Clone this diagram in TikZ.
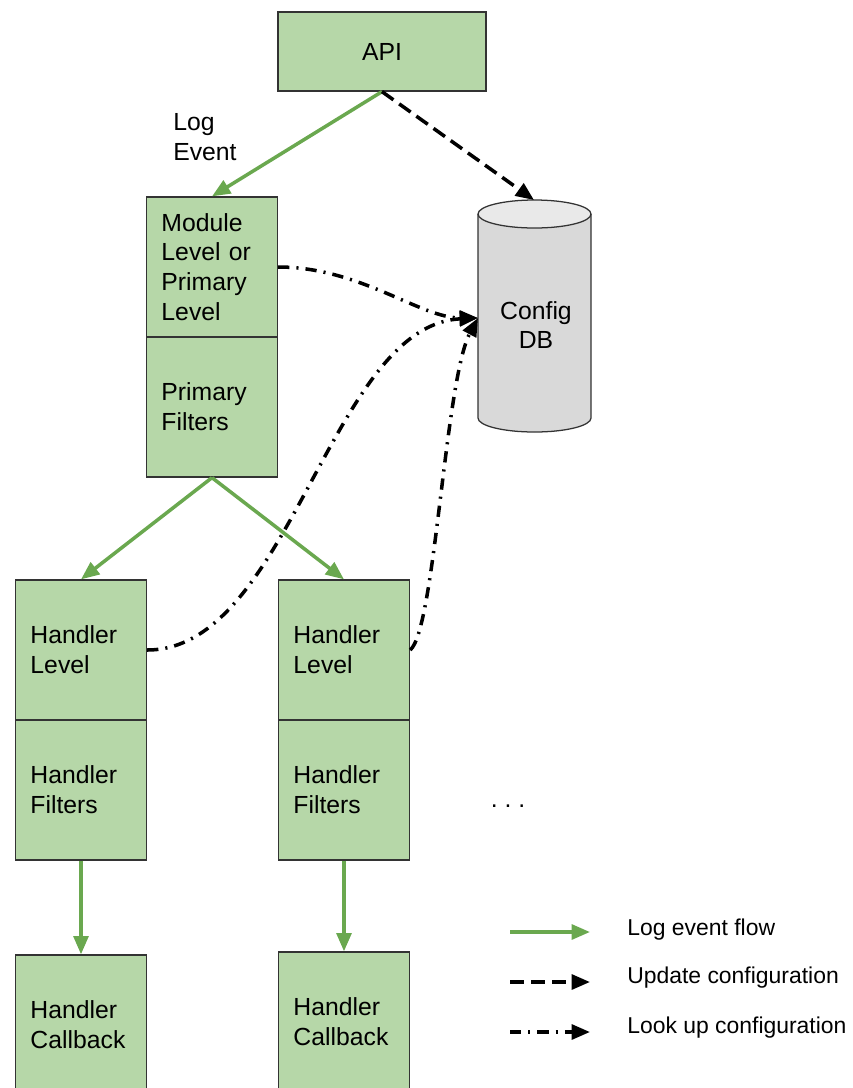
\documentclass[tikz,border=0pt]{standalone}
\usepackage{fontspec}
\setmainfont{Liberation Sans}
\usetikzlibrary{arrows.meta}

\definecolor{boxgreen}{HTML}{B6D7A8}
\definecolor{flowgreen}{HTML}{6AA84F}
\definecolor{edgegrey}{HTML}{333333}
\definecolor{dbgrey}{HTML}{D9D9D9}
\definecolor{dbtopgrey}{HTML}{E9E9E9}

\tikzset{
  greenbox/.style={draw=edgegrey, line width=0.9pt, fill=boxgreen, rectangle,
    minimum width=3.275cm, minimum height=3.5cm, text width=2.525cm,
    inner xsep=0.375cm, align=left, font=\fontsize{17.6}{21.2}\selectfont},
  flowarr/.style={->, flowgreen, line width=2.5pt},
  updarr/.style={->, black, line width=2.5pt, dash pattern=on 10pt off 5pt},
  lookarr/.style={->, black, line width=2.5pt, dash pattern=on 8pt off 5pt on 1.5pt off 5pt},
  legtext/.style={anchor=base west, inner sep=0, font=\fontsize{16.3}{19}\selectfont}
}

\begin{document}
\begin{tikzpicture}[x=0.025cm, y=-0.025cm, >={Triangle[length=13pt,width=10.5pt]}]
\useasboundingbox (0,0) rectangle (853,1088);

% top part
\node [greenbox, minimum width=5.2cm, minimum height=1.975cm, text width=4.45cm, align=center] (api) at (382,51.5) {API};
\node [greenbox] (modlvl) at (212,267) {Module\\Level or\\Primary\\Level};
\node [greenbox] (modflt) at (212,407) {Primary\\Filters};
\node [anchor=west, inner sep=0, align=left, font=\fontsize{17.6}{21.2}\selectfont] (logev) at (173,137) {Log\\Event};

% config db
\begin {scope}
  \fill [dbgrey, draw=edgegrey, line width=0.9pt] (478,214) -- (478,418)
     arc [start angle=180, end angle=360, x radius=1.4125cm, y radius=0.35cm] -- (591,214);
  \filldraw [fill=dbtopgrey, draw=edgegrey, line width=0.9pt] (534.5,214) ellipse [x radius=1.4125cm, y radius=0.35cm];
  \node [align=center, font=\fontsize{17.6}{21.2}\selectfont] (db) at (536,325) {Config\\DB};
  \coordinate (dbtop) at (534,200);
  \coordinate (dbin) at (478,318);
\end {scope}

% handlers
\node [greenbox] (hl1) at (81,650) {Handler\\Level};
\node [greenbox] (hf1) at (81,790) {Handler\\Filters};
\node [greenbox] (cb1) at (81,1025) {Handler\\Callback};
\node [greenbox] (hl2) at (344,650) {Handler\\Level};
\node [greenbox] (hf2) at (344,790) {Handler\\Filters};
\node [greenbox] (cb2) at (344,1022) {Handler\\Callback};
\node [font=\fontsize{17.6}{21.2}\selectfont] (more) at (508,806) {.\ .\ .};

% connectors
\draw [flowarr] (api.south) -- (modlvl.north);
\draw [updarr] (api.south) -- (dbtop);
\draw [flowarr] (modflt.south) -- (hl1.north);
\draw [flowarr] (modflt.south) -- (hl2.north);
\draw [flowarr] (hf1.south) -- (cb1.north);
\draw [flowarr] (hf2.south) -- (cb2.north);
\draw [lookarr] (modlvl.east) .. controls (360,267) and (420,318) .. (dbin);
\draw [lookarr] (hl1.east) .. controls (290,650) and (330,325) .. (dbin);
\draw [lookarr] (hl2.east) .. controls (435,630) and (445,380) .. (dbin);

% legend
\coordinate (lg1a) at (510,932); \coordinate (lg1b) at (590,932);
\coordinate (lg2a) at (510,982); \coordinate (lg2b) at (590,982);
\coordinate (lg3a) at (510,1032); \coordinate (lg3b) at (590,1032);
\draw [flowarr] (lg1a) -- (lg1b);
\draw [updarr] (lg2a) -- (lg2b);
\draw [lookarr] (lg3a) -- (lg3b);
\node [legtext] (lgt1) at (627,935) {Log event flow};
\node [legtext] (lgt2) at (627,983) {Update configuration};
\node [legtext] (lgt3) at (627,1033) {Look up configuration};
\end{tikzpicture}
\end{document}
